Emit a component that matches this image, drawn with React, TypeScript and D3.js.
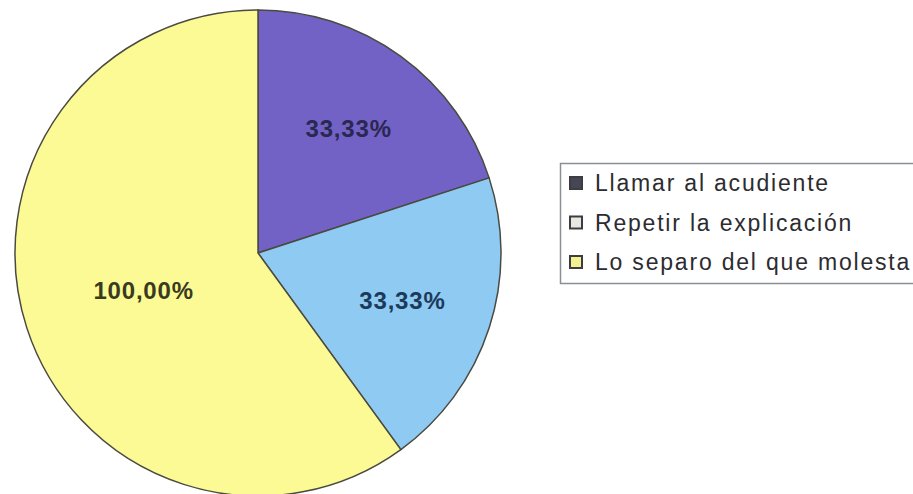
import { useEffect, useRef } from "react";
import * as d3 from "d3";

const categories = ["Llamar al acudiente", "Repetir la explicación", "Lo separo del que molesta"];
const values = [33.33, 33.33, 100.0];
const labels = ["33,33%", "33,33%", "100,00%"];
const fills = ["#7262c6", "#8ecaf2", "#fbfa94"];
const labelColors = ["#2a2850", "#1c3a5a", "#3a3a20"];
const labelRadius = [0.635, 0.625, 0.495];
const legendSwatch = ["#454752", "#e8e8e0", "#f4f090"];

const W = 913;
const H = 494;
const CX = 258;
const CY = 253;
const R = 243;

export default function App() {
  const svgRef = useRef<SVGSVGElement | null>(null);

  useEffect(() => {
    const svg = d3.select(svgRef.current);
    svg.selectAll("*").remove();

    const pie = d3.pie<number>().sort(null).value((d) => d);
    const arcs = pie(values);
    const arc = d3.arc<d3.PieArcDatum<number>>().innerRadius(0).outerRadius(R);
    const centroid = (d: d3.PieArcDatum<number>, i: number) =>
      d3
        .arc<d3.PieArcDatum<number>>()
        .innerRadius(R * labelRadius[i])
        .outerRadius(R * labelRadius[i])
        .centroid(d);

    const g = svg.append("g").attr("transform", `translate(${CX},${CY})`);
    g.selectAll("path")
      .data(arcs)
      .join("path")
      .attr("d", arc)
      .attr("fill", (_d, i) => fills[i])
      .attr("stroke", "#4a4a40")
      .attr("stroke-width", 1.5);

    g.selectAll("text")
      .data(arcs)
      .join("text")
      .attr("x", (d, i) => centroid(d, i)[0])
      .attr("y", (d, i) => centroid(d, i)[1])
      .attr("dy", "0.36em")
      .attr("text-anchor", "middle")
      .attr("font-family", "Arial, 'Liberation Sans', sans-serif")
      .attr("font-weight", "bold")
      .attr("font-size", 24)
      .attr("letter-spacing", 0.8)
      .attr("fill", (_d, i) => labelColors[i])
      .text((_d, i) => labels[i]);

    // legend
    const lg = svg.append("g").attr("transform", "translate(560,163)");
    lg.append("rect")
      .attr("x", 0.5)
      .attr("y", 0.5)
      .attr("width", 390)
      .attr("height", 120)
      .attr("fill", "#fff")
      .attr("stroke", "#8a8f94")
      .attr("stroke-width", 1.5);
    const row = lg
      .selectAll("g.row")
      .data(categories)
      .join("g")
      .attr("class", "row")
      .attr("transform", (_d, i) => `translate(10,${20 + i * 39.5})`);
    row
      .append("rect")
      .attr("x", 0)
      .attr("y", -6)
      .attr("width", 12)
      .attr("height", 12)
      .attr("fill", (_d, i) => legendSwatch[i])
      .attr("stroke", "#3c3c44")
      .attr("stroke-width", 2);
    row
      .append("text")
      .attr("x", 25)
      .attr("dy", "0.36em")
      .attr("font-family", "Arial, 'Liberation Sans', sans-serif")
      .attr("font-size", 23)
      .attr("letter-spacing", 1.8)
      .attr("fill", "#2c2c30")
      .text((d) => d);
  }, []);

  return (
    <svg
      ref={svgRef}
      width={W}
      height={H}
      style={{ position: "absolute", left: 0, top: 0, background: "#fff" }}
    />
  );
}
